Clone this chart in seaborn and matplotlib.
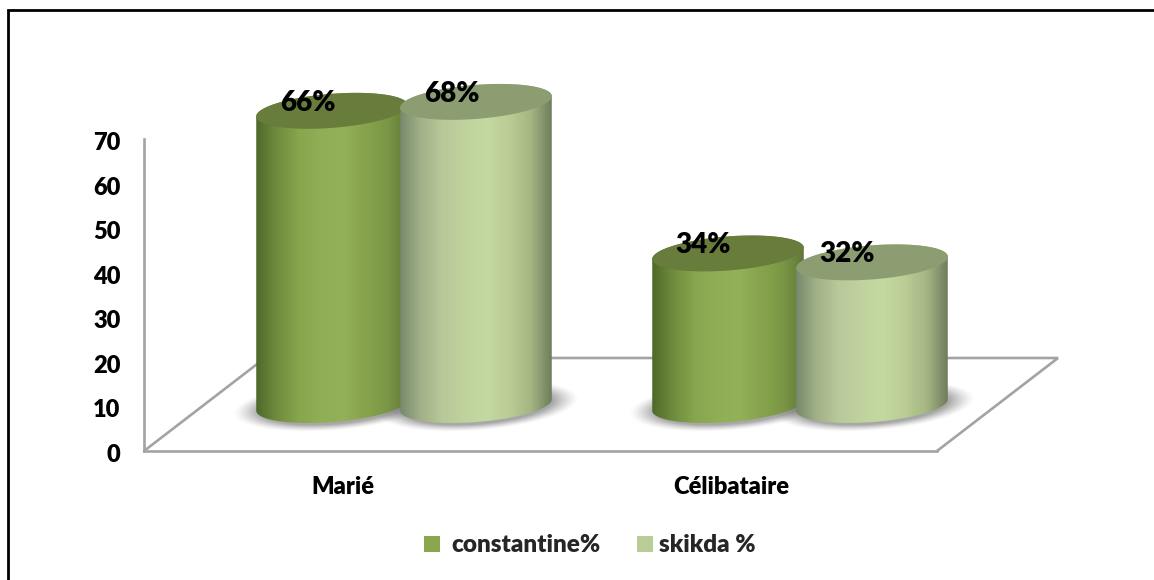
import numpy as np
import pandas as pd
import matplotlib
matplotlib.use("Agg")
import matplotlib.pyplot as plt
import seaborn as sns
from matplotlib.colors import LinearSegmentedColormap
from matplotlib.lines import Line2D
from matplotlib.patches import Patch, PathPatch
from matplotlib.path import Path
from matplotlib.transforms import ScaledTranslation

# Survey values
categories = ["Marié", "Célibataire"]
series_names = ["constantine%", "skikda %"]
constantine = [66, 34]
skikda = [68, 32]
value_labels = {"constantine%": ["66%", "34%"], "skikda %": ["68%", "32%"]}
y_ticks = [0, 10, 20, 30, 40, 50, 60, 70]

# Canvas and pseudo-3D layout, in pixels from the top-left corner
W, H = 1154, 580
AX_L, AX_R, AX_TOP, AX_BOT = 144, 937, 139, 451
FLOOR_DX_L, FLOOR_DX_R, FLOOR_BACK = 121, 121, 358
BASE_PX = 405            # height of the cylinders' base centre
GROUP_CENTRES = (404, 800)
DODGE_PX = 144
CYL_W = 152
ELL_RY = 17.0
TILT = np.radians(4.5)

# Face shading across a cylinder and the colour of its lid
dark_stops = ["#4c6829", "#6f8c3d", "#88a64e", "#90ae56", "#93b159", "#87a44d", "#7b9746", "#5e7836"]
light_stops = ["#76876a", "#a2b288", "#b8c99a", "#c0d39e", "#c4d8a2", "#bacd94", "#a5b684", "#6b7a5a"]
lid_colors = {"constantine%": "#687c3b", "skikda %": "#8d9d72"}
flat_colors = {"constantine%": "#8aa64f", "skikda %": "#bacd96"}
shades = {"constantine%": dark_stops, "skikda %": light_stops}
grey = "#a3a3a3"

sns.set_theme(style="white")
plt.rcParams["font.family"] = ["Lato", "DejaVu Sans"]
TEXT_WEIGHT = 800

df = pd.DataFrame({
    "cat": categories * 2,
    "serie": [series_names[0]] * 2 + [series_names[1]] * 2,
    "val": constantine + skikda,
})

fig = plt.figure(figsize=(W / 100, H / 100), dpi=100, facecolor="white")
ax = fig.add_axes([AX_L / W, 1 - AX_BOT / H, (AX_R - AX_L) / W, (AX_BOT - AX_TOP) / H])
ax.set_facecolor("none")

px_per_y = (AX_BOT - AX_TOP) / 70
base_val = (AX_BOT - BASE_PX) / px_per_y
px_per_x = GROUP_CENTRES[1] - GROUP_CENTRES[0]
xlim = ((AX_L - GROUP_CENTRES[0]) / px_per_x, (AX_R - GROUP_CENTRES[0]) / px_per_x)

sns.barplot(data=df, x="cat", y="val", hue="serie", order=categories, hue_order=series_names,
            palette=flat_colors, width=2 * DODGE_PX / px_per_x, dodge=True, legend=False,
            bottom=base_val, ax=ax, linewidth=0)


def to_data(cx, cy, dx_px, dy_px):
    """Offset a data point by a pixel amount (dy_px positive is upward)."""
    return cx + np.asarray(dx_px) / px_per_x, cy + np.asarray(dy_px) / px_per_y


def tilted_ellipse(cx, cy, t):
    ex = CYL_W / 2 * np.cos(t)
    ey = ELL_RY * np.sin(t)
    return to_data(cx,
                   cy,
                   ex * np.cos(TILT) - ey * np.sin(TILT),
                   ex * np.sin(TILT) + ey * np.cos(TILT))


def add_shadow(cx, cy):
    # Soft ground shadow around a cylinder foot
    nx, ny = 200, 90
    xs = np.linspace(-130, 130, nx)
    ys = np.linspace(-50, 50, ny)
    gx, gy = np.meshgrid(xs, ys)
    u = gx * np.cos(TILT) + gy * np.sin(TILT)
    v = -gx * np.sin(TILT) + gy * np.cos(TILT)
    r = np.sqrt(((u - 2) / (CYL_W / 2 + 18)) ** 2 + ((v + 1) / (ELL_RY + 6)) ** 2)
    alpha = np.clip((1.08 - r) / 0.28, 0, 1) ** 1.3 * 0.55
    rgba = np.zeros((ny, nx, 4))
    rgba[..., :3] = 0.38
    rgba[..., 3] = alpha
    x0, y0 = to_data(cx, cy, -130, -50)
    x1, y1 = to_data(cx, cy, 130, 50)
    ax.imshow(rgba, extent=(x0, x1, y0, y1), origin="lower", aspect="auto",
              zorder=2, clip_on=False, interpolation="bilinear")


def add_cylinder(cx, val, stops, lid, z):
    top = base_val + val
    t = np.linspace(0, 2 * np.pi, 181)
    lower_x, lower_y = tilted_ellipse(cx, base_val, np.linspace(np.pi, 2 * np.pi, 90))
    upper_x, upper_y = tilted_ellipse(cx, top, np.linspace(0, np.pi, 90))
    verts = np.column_stack([np.r_[lower_x, upper_x], np.r_[lower_y, upper_y]])
    outline = Path(np.vstack([verts, verts[0]]), closed=True)

    cmap = LinearSegmentedColormap.from_list("face", stops)
    x0, y0 = to_data(cx, base_val, -CYL_W / 2 - 1, -ELL_RY - 12)
    x1, y1 = to_data(cx, top, CYL_W / 2 + 1, ELL_RY + 12)
    im = ax.imshow(np.linspace(0, 1, 256)[None, :], extent=(x0, x1, y0, y1), cmap=cmap,
                   origin="lower", aspect="auto", zorder=z, interpolation="bilinear")
    im.set_clip_box(fig.bbox)
    im.set_clip_path(PathPatch(outline, transform=ax.transData))

    lx, ly = tilted_ellipse(cx, top, t)
    ax.fill(lx, ly, color=lid, lw=0, zorder=z + 0.1, clip_on=False)


# Floor outline of the 3D box
floor_left_x = (AX_L + FLOOR_DX_L - GROUP_CENTRES[0]) / px_per_x
floor_right_x = (AX_R + FLOOR_DX_R - GROUP_CENTRES[0]) / px_per_x
floor_y = (AX_BOT - FLOOR_BACK) / px_per_y
ax.plot([xlim[0], floor_left_x, floor_right_x, xlim[1]], [0, floor_y, floor_y, 0],
        color=grey, lw=1.9, zorder=1, clip_on=False, solid_joinstyle="miter")

# Replace each flat seaborn bar with a shaded cylinder at the same position
bars = list(ax.patches)
centres = [b.get_x() + b.get_width() / 2 for b in bars]
heights = [b.get_height() for b in bars]
owners = [s for s in series_names for _ in categories]
for b in bars:
    b.set_visible(False)
for c in centres:
    add_shadow(c, base_val)
for c, h, s in zip(centres, heights, owners):
    add_cylinder(c, h, shades[s], lid_colors[s], z=3 + series_names.index(s))

# Percentage labels sitting on the lids
for c, h, s, idx in zip(centres, heights, owners, [0, 1, 0, 1]):
    ax.annotate(value_labels[s][idx], (c, base_val + h), xytext=(-24.5 * 0.72, 8.0 * 0.72),
                textcoords="offset points", ha="center", va="center",
                fontsize=20, fontweight=TEXT_WEIGHT, color="black", zorder=10,
                annotation_clip=False)

# Axes
ax.set_xlim(*xlim)
ax.set_ylim(0, 70)
ax.set_yticks(y_ticks)
ax.set_yticklabels([str(v) for v in y_ticks], fontsize=17, fontweight=TEXT_WEIGHT, color="black")
ax.set_xticks([(342.5 - GROUP_CENTRES[0]) / px_per_x, (731.5 - GROUP_CENTRES[0]) / px_per_x])
ax.set_xticklabels(categories, fontsize=17, fontweight=TEXT_WEIGHT, color="black")
ax.tick_params(axis="y", length=0, pad=17)
ax.tick_params(axis="x", length=0, pad=18)
ax.set_xlabel("")
ax.set_ylabel("")
nudge = ScaledTranslation(0, -2 / 100, fig.dpi_scale_trans)
for lab in ax.get_yticklabels():
    lab.set_transform(lab.get_transform() + nudge)
sns.despine(ax=ax, top=True, right=True)
for side in ("left", "bottom"):
    ax.spines[side].set_color(grey)
    ax.spines[side].set_linewidth(1.9)
    ax.spines[side].set_zorder(1.5)


def add_legend_entry(name, square_left_px, pad):
    handle = Patch(facecolor=flat_colors[name], edgecolor="none", label=name)
    leg = fig.legend(handles=[handle], loc="center left",
                     bbox_to_anchor=(square_left_px / W, 1 - 545.5 / H),
                     frameon=False, borderpad=0, borderaxespad=0, handlelength=0.64,
                     handleheight=0.64, handletextpad=pad,
                     prop={"size": 17.5, "weight": TEXT_WEIGHT})
    return leg


add_legend_entry(series_names[0], 424, 0.47)
add_legend_entry(series_names[1], 637, 0.26)

# Frame stroke along the top and left edges of the canvas
fig.add_artist(Line2D([8 / W, 8 / W, 1], [0, 1 - 10 / H, 1 - 10 / H], color="black", lw=2.0,
                      solid_joinstyle="miter", transform=fig.transFigure))

fig.savefig("out.png", dpi=100, facecolor="white")
